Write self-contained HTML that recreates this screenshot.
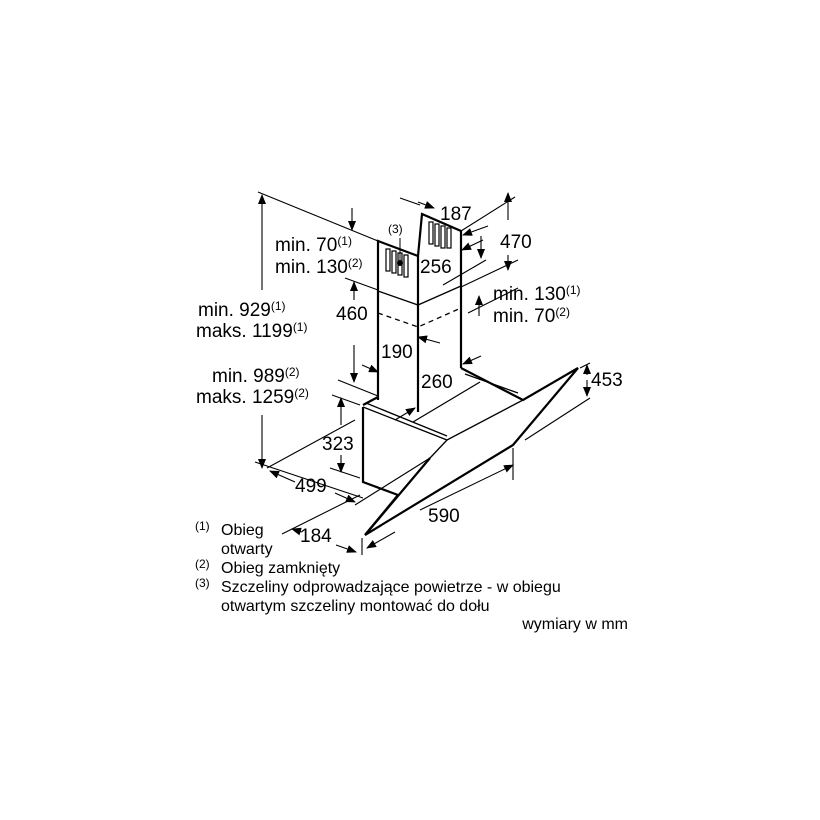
<!DOCTYPE html>
<html><head><meta charset="utf-8"><style>
html,body{margin:0;padding:0;background:#fff}
svg{display:block}
text{font-family:"Liberation Sans",sans-serif;fill:#000}
.t{font-size:19px}
.s{font-size:12px}
.l{font-size:16px}
</style></head><body>
<svg width="820" height="820" viewBox="0 0 820 820" xmlns="http://www.w3.org/2000/svg">
<defs>
<marker id="a" markerWidth="10" markerHeight="8" refX="9" refY="4" orient="auto" markerUnits="userSpaceOnUse"><path d="M0,0 L10,4 L0,8 Z" fill="#000"/></marker>
</defs>
<g stroke="#000" fill="none">
<g stroke-width="2.2">
<path d="M378,400 L378,241 L418,256 L422,214 L461,231 L461,368"/>
<path d="M418,256 L418,412"/>
<path d="M378,397 L363,405"/>
<path d="M363,407 L363,482 L398,495"/>
<path d="M461,368 L523,400 L578,368 L513,445 L365,535 L430,458"/>
<path d="M398,495 L365,535"/>
</g>
<g stroke-width="1.3">
<path d="M378,291 L418,305 L461,286"/>
<path d="M363,407 L447,440 L523,400"/>
<path d="M366,403 L447,436"/>
<path d="M413,422 L480,382"/>
<path d="M465,374 L518,393"/>
<path d="M430,458 L447,440"/>
</g>
<path d="M378,313 L418,327 L461,308" stroke-width="1.3" stroke-dasharray="5,4"/>
<g stroke-width="1.2">
<rect x="386" y="249" width="4" height="22"/><rect x="392" y="251" width="4" height="22"/><rect x="398" y="253" width="4" height="22"/><rect x="404" y="255" width="4" height="22"/>
<rect x="429" y="222" width="4" height="22"/><rect x="435" y="224" width="4" height="22"/><rect x="441" y="226" width="4" height="22"/><rect x="447" y="228" width="4" height="20"/>
</g>
<circle cx="400" cy="263" r="2.5" fill="#000"/>
<path d="M400,238 L400,262" stroke-width="1"/>
<g stroke-width="1.1">
<path d="M258,192 L378,241"/>
<path d="M262,290 L262,195" marker-end="url(#a)"/>
<path d="M262,415 L262,468" marker-end="url(#a)"/>
<path d="M255,462 L363,498"/>
<path d="M352,208 L352,230" marker-end="url(#a)"/>
<path d="M345,278 L378,290"/>
<path d="M354,300 L354,282" marker-end="url(#a)"/>
<path d="M354,345 L354,382" marker-end="url(#a)"/>
<path d="M338,380 L378,396"/>
<path d="M362,365 L378,372" marker-end="url(#a)"/>
<path d="M440,343 L418,337" marker-end="url(#a)"/>
<path d="M395,420 L415,408" marker-end="url(#a)"/>
<path d="M481,356 L463,364" marker-end="url(#a)"/>
<path d="M420,205 L400,198"/>
<path d="M418,202 L434,208" marker-end="url(#a)"/>
<path d="M461,231 L515,197"/>
<path d="M488,226 L463,235" marker-end="url(#a)"/>
<path d="M483,240 L462,250" marker-end="url(#a)"/>
<path d="M443,285 L486,260"/>
<path d="M481,236 L481,258" marker-end="url(#a)"/>
<path d="M461,287 L518,260"/>
<path d="M468,313 L518,288"/>
<path d="M479,316 L479,296" marker-end="url(#a)"/>
<path d="M508,220 L508,193" marker-end="url(#a)"/>
<path d="M508,255 L508,270" marker-end="url(#a)"/>
<path d="M580,368 L590,363"/>
<path d="M587,375 L587,365" marker-end="url(#a)"/>
<path d="M587,380 L587,396" marker-end="url(#a)"/>
<path d="M525,440 L590,398"/>
<path d="M332,395 L360,405"/>
<path d="M341,425 L341,398" marker-end="url(#a)"/>
<path d="M341,455 L341,472" marker-end="url(#a)"/>
<path d="M330,468 L360,478"/>
<path d="M267,468 L355,420"/>
<path d="M295,482 L270,471" marker-end="url(#a)"/>
<path d="M335,493 L355,502" marker-end="url(#a)"/>
<path d="M355,505 L430,458"/>
<path d="M282,534 L360,495"/>
<path d="M302,532 L292,529" marker-end="url(#a)"/>
<path d="M336,545 L356,552" marker-end="url(#a)"/>
<path d="M362,538 L362,555"/>
<path d="M513,448 L513,480"/>
<path d="M420,510 L513,465" marker-end="url(#a)"/>
<path d="M395,532 L367,548" marker-end="url(#a)"/>
</g>
</g>
<text class="t" x="440" y="220">187</text>
<text class="t" x="500" y="248">470</text>
<text class="t" x="420" y="273">256</text>
<text class="s" x="388" y="233">(3)</text>
<text class="t" x="275" y="251">min. 70<tspan class="s" dy="-6">(1)</tspan></text>
<text class="t" x="275" y="273">min. 130<tspan class="s" dy="-6">(2)</tspan></text>
<text class="t" x="493" y="300">min. 130<tspan class="s" dy="-6">(1)</tspan></text>
<text class="t" x="493" y="322">min. 70<tspan class="s" dy="-6">(2)</tspan></text>
<text class="t" x="198" y="316">min. 929<tspan class="s" dy="-6">(1)</tspan></text>
<text class="t" x="196" y="337">maks. 1199<tspan class="s" dy="-6">(1)</tspan></text>
<text class="t" x="336" y="320">460</text>
<text class="t" x="381" y="358">190</text>
<text class="t" x="421" y="388">260</text>
<text class="t" x="212" y="382">min. 989<tspan class="s" dy="-6">(2)</tspan></text>
<text class="t" x="196" y="403">maks. 1259<tspan class="s" dy="-6">(2)</tspan></text>
<text class="t" x="591" y="386">453</text>
<text class="t" x="322" y="450">323</text>
<text class="t" x="295" y="492">499</text>
<text class="t" x="428" y="522">590</text>
<text class="t" x="300" y="542">184</text>
<text class="s" x="195" y="530">(1)</text>
<text class="l" x="221" y="535">Obieg</text>
<text class="l" x="221" y="554">otwarty</text>
<text class="s" x="195" y="568">(2)</text>
<text class="l" x="221" y="573">Obieg zamknięty</text>
<text class="s" x="195" y="587">(3)</text>
<text class="l" x="221" y="592">Szczeliny odprowadzające powietrze - w obiegu</text>
<text class="l" x="221" y="611">otwartym szczeliny montować do dołu</text>
<text class="l" x="628" y="629" text-anchor="end">wymiary w mm</text>
</svg>
</body></html>
